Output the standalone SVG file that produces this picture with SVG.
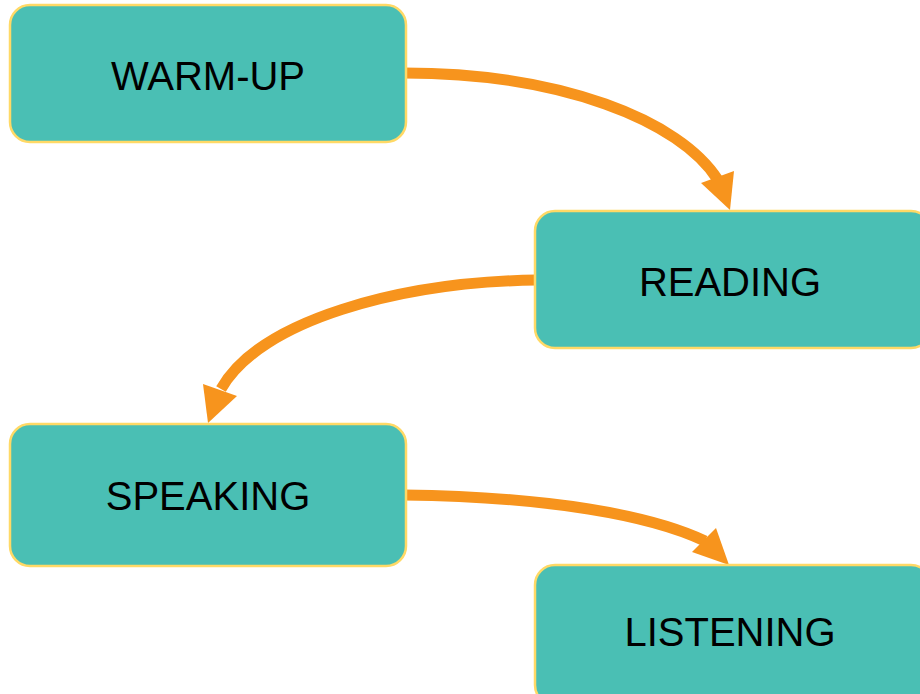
<svg xmlns="http://www.w3.org/2000/svg" width="920" height="694" viewBox="0 0 920 694">
<style>
.node rect{fill:#4ABFB4;stroke:#FFD966;stroke-width:2.5}
.node text{font-family:"Liberation Sans",Arial,sans-serif;font-size:40px;fill:#000;text-anchor:middle}
.conn path{fill:none;stroke:#F7941D;stroke-width:11}
.conn polygon{fill:#F7941D}
</style>
<rect width="920" height="694" fill="#fff"/>
<g id="connectors" class="conn">
<path d="M404,73 C560,73 680,120 718,180"/>
<polygon points="730,210 701,183 734,171"/>
<path d="M537,280 C400,282 260,320 221,389"/>
<polygon points="208,423 203,384 237,396"/>
<path d="M404,495 C550,497 650,515 705,541"/>
<polygon points="729,565 692,552 716,528"/>
</g>
<g id="warmup" class="node">
<rect x="10" y="5" width="396" height="137" rx="20"/>
<text x="208" y="90">WARM-UP</text>
</g>
<g id="reading" class="node">
<rect x="535" y="211" width="396" height="137" rx="20"/>
<text x="730" y="296">READING</text>
</g>
<g id="speaking" class="node">
<rect x="10" y="424" width="396" height="142" rx="20"/>
<text x="208" y="510">SPEAKING</text>
</g>
<g id="listening" class="node">
<rect x="535" y="565" width="396" height="140" rx="20"/>
<text x="730" y="646">LISTENING</text>
</g>
</svg>
